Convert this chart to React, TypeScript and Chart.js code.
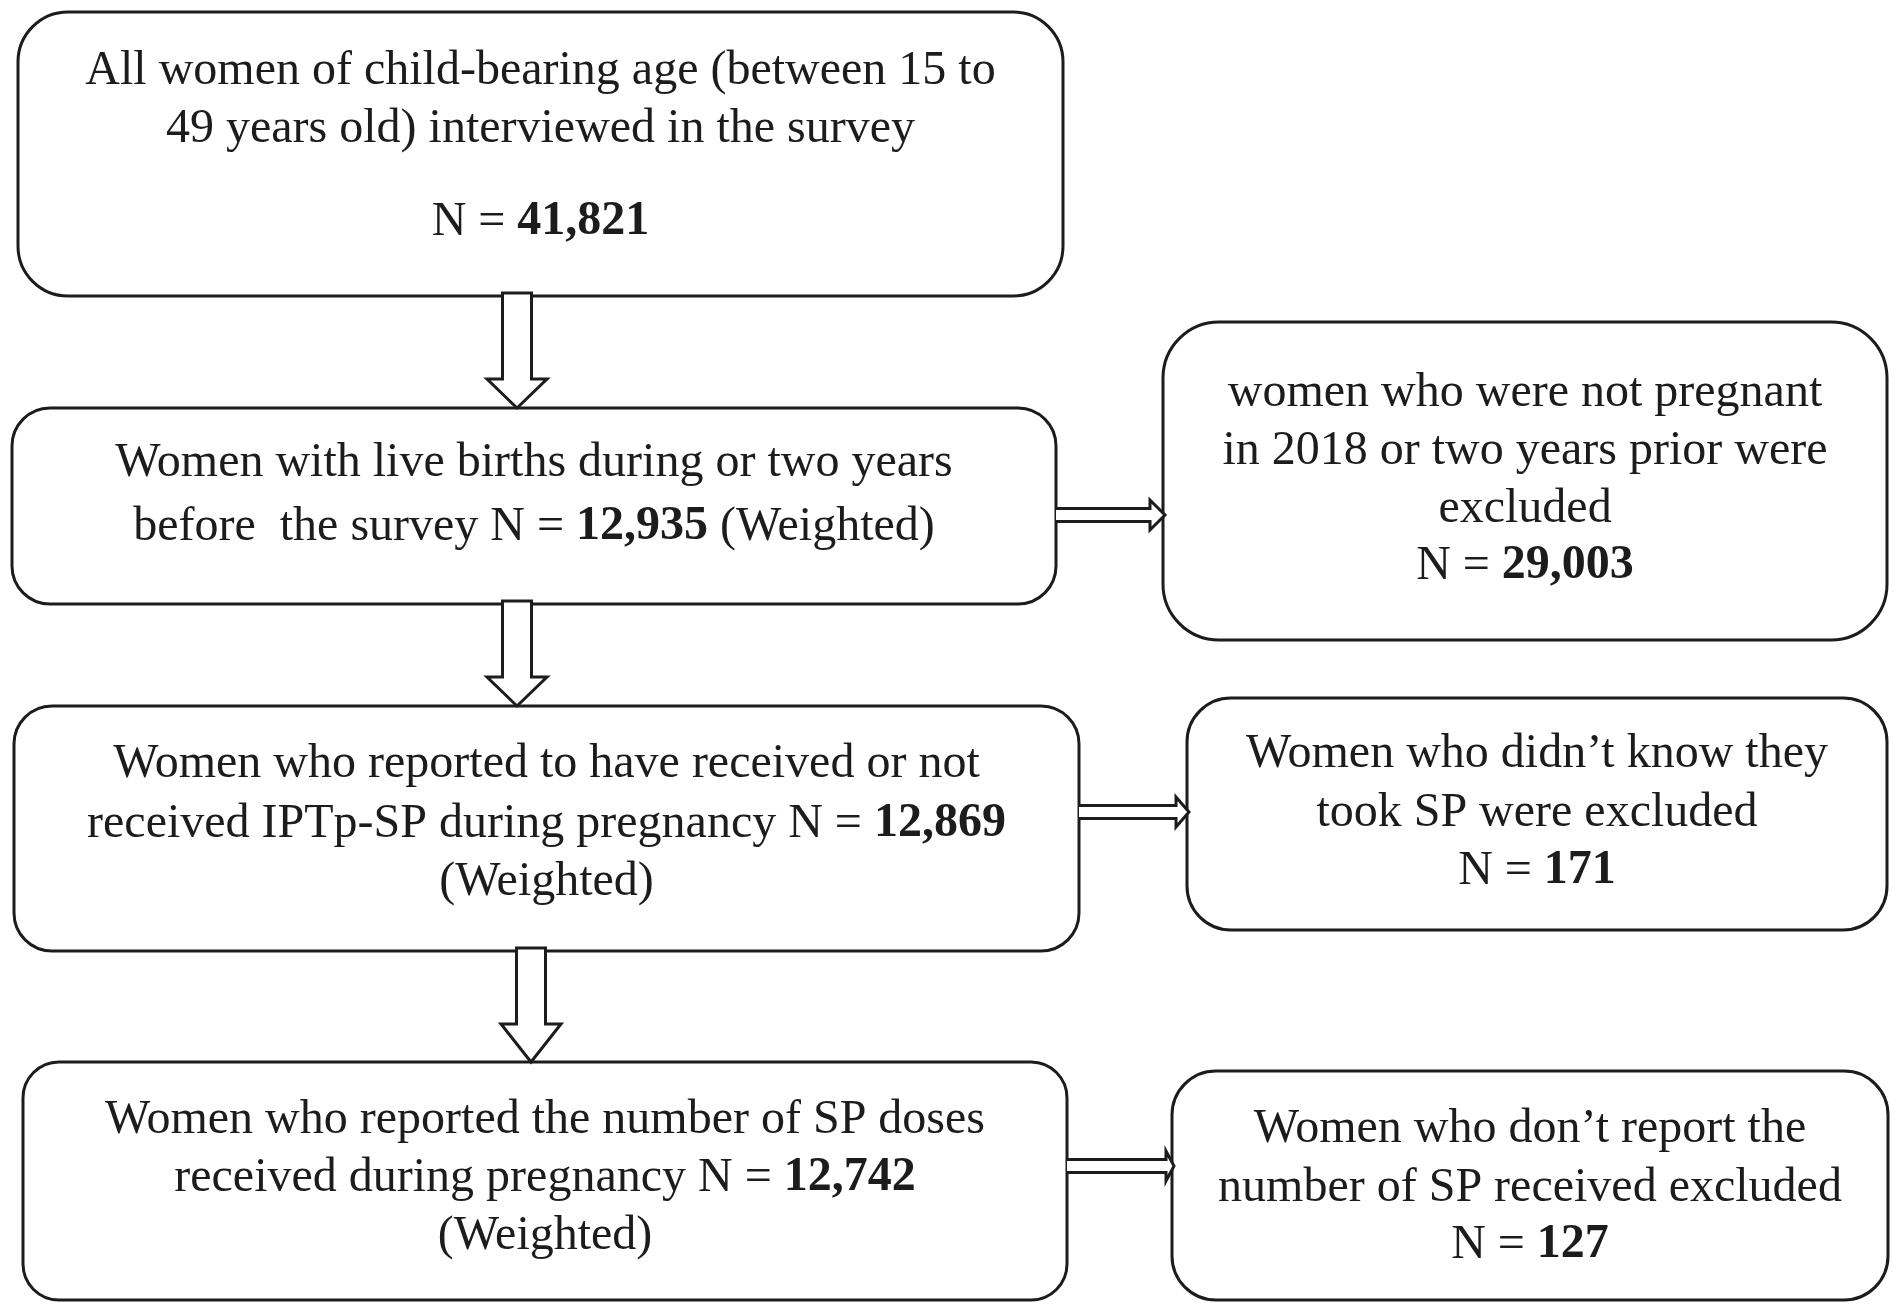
import React, { useEffect, useRef } from "react";
import { Chart, registerables } from "chart.js";

Chart.register(...registerables);

// ---------- content ----------
const nValues = ["41,821", "12,935", "29,003", "12,869", "171", "12,742", "127"];

const boxLines: string[][] = [
  ["All women of child-bearing age (between 15 to", "49 years old) interviewed in the survey", "N = **{N}**"],
  ["Women with live births during or two years", "before  the survey N = **{N}** (Weighted)"],
  ["women who were not pregnant", "in 2018 or two years prior were", "excluded", "N = **{N}**"],
  ["Women who reported to have received or not", "received IPTp-SP during pregnancy N = **{N}**", "(Weighted)"],
  ["Women who didn\u2019t know they", "took SP were excluded", "N = **{N}**"],
  ["Women who reported the number of SP doses", "received during pregnancy N = **{N}**", "(Weighted)"],
  ["Women who don\u2019t report the", "number of SP received excluded", "N = **{N}**"],
];

// flow links: [from box, to box]
const downLinks = [[0, 1], [1, 3], [3, 5]];
const sideLinks = [[1, 2], [3, 4], [5, 6]];

// ---------- layout (in frame units) ----------
const frameW = 1893;
const frameH = 1304;
const boxLeft = [18, 12, 1163, 14, 1187, 23, 1172];
const boxRight = [1063, 1056, 1887, 1079, 1887, 1067, 1888];
const boxTop = [12, 408, 322, 706, 698, 1062, 1071];
const boxBottom = [296, 604, 640, 951, 930, 1300, 1300];
const boxRadius = [50, 38, 56, 38, 44, 36, 44];
const lineY = [
  [71, 129, 222],
  [463, 527],
  [393, 451, 509, 566],
  [764, 824, 882],
  [754, 813, 871],
  [1120, 1178, 1236],
  [1129, 1188, 1245],
];
const downX = [517, 517, 531];
const downHeadY = [379, 677, 1024];
const sideY = [515, 812, 1166];
const sideHeadX = [1150, 1176, 1166];

const FONT = '"Liberation Serif", "Times New Roman", serif';
const INK = "#1c1c1c";

function parseLine(s: string, n: string) {
  const parts = s.replace("{N}", n).split("**");
  return parts.map((t, i) => ({ t, b: i % 2 === 1 })).filter((p) => p.t.length > 0);
}

const flowPlugin = {
  id: "flow",
  afterDraw(chart: any) {
    const ctx: CanvasRenderingContext2D = chart.ctx;
    const xs = chart.scales.x;
    const ys = chart.scales.y;
    const X = (v: number) => xs.getPixelForValue(v);
    const Y = (v: number) => ys.getPixelForValue(v);
    ctx.save();
    ctx.fillStyle = "#ffffff";
    ctx.fillRect(0, 0, chart.width, chart.height);

    // boxes
    ctx.lineWidth = 3;
    ctx.strokeStyle = INK;
    for (let i = 0; i < boxLines.length; i++) {
      const l = X(boxLeft[i]), r = X(boxRight[i]), t = Y(boxTop[i]), b = Y(boxBottom[i]);
      ctx.beginPath();
      (ctx as any).roundRect(l, t, r - l, b - t, boxRadius[i]);
      ctx.fillStyle = "#ffffff";
      ctx.fill();
      ctx.stroke();
    }

    // down arrows (hollow block arrows)
    downLinks.forEach(([from, to], k) => {
      const cx = X(downX[k]);
      const top = Y(boxBottom[from]) - 3;
      const hy = Y(downHeadY[k]);
      const tip = Y(boxTop[to]);
      const sw = 14.5, hw = 30;
      ctx.beginPath();
      ctx.moveTo(cx - sw, top);
      ctx.lineTo(cx + sw, top);
      ctx.lineTo(cx + sw, hy);
      ctx.lineTo(cx + hw, hy);
      ctx.lineTo(cx, tip);
      ctx.lineTo(cx - hw, hy);
      ctx.lineTo(cx - sw, hy);
      ctx.closePath();
      ctx.fillStyle = "#ffffff";
      ctx.fill();
      ctx.lineWidth = 3;
      ctx.stroke();
    });

    // side arrows (thin hollow arrows)
    sideLinks.forEach(([from, to], k) => {
      const cy = Y(sideY[k]);
      const x0 = X(boxRight[from]);
      const hx = X(sideHeadX[k]);
      const tip = X(boxLeft[to]) + 2;
      const sh = 6.5, hh = 15;
      ctx.beginPath();
      ctx.moveTo(x0, cy - sh);
      ctx.lineTo(hx, cy - sh);
      ctx.lineTo(hx, cy - hh);
      ctx.lineTo(tip, cy);
      ctx.lineTo(hx, cy + hh);
      ctx.lineTo(hx, cy + sh);
      ctx.lineTo(x0, cy + sh);
      ctx.fillStyle = "#ffffff";
      ctx.fill();
      ctx.lineWidth = 3;
      ctx.stroke();
    });

    // texts
    ctx.fillStyle = INK;
    ctx.textBaseline = "middle";
    ctx.textAlign = "left";
    const size = 48;
    for (let i = 0; i < boxLines.length; i++) {
      const cx = (X(boxLeft[i]) + X(boxRight[i])) / 2;
      boxLines[i].forEach((line, j) => {
        const segs = parseLine(line, nValues[i]);
        let total = 0;
        const widths = segs.map((s) => {
          ctx.font = `${s.b ? "bold " : ""}${size}px ${FONT}`;
          const w = ctx.measureText(s.t).width;
          total += w;
          return w;
        });
        let x = cx - total / 2;
        const y = Y(lineY[i][j]);
        segs.forEach((s, m) => {
          ctx.font = `${s.b ? "bold " : ""}${size}px ${FONT}`;
          ctx.fillText(s.t, x, y);
          x += widths[m];
        });
      });
    }
    ctx.restore();
  },
};

export default function App() {
  const ref = useRef<HTMLCanvasElement | null>(null);
  useEffect(() => {
    document.body.style.margin = "0";
    const canvas = ref.current;
    if (!canvas) return;
    const chart = new Chart(canvas, {
      type: "scatter",
      data: { datasets: [{ data: [], pointRadius: 0 }] },
      options: {
        animation: false,
        responsive: false,
        maintainAspectRatio: false,
        layout: { padding: 0 },
        plugins: { legend: { display: false }, tooltip: { enabled: false } },
        scales: {
          x: { type: "linear", min: 0, max: frameW, display: false },
          y: { type: "linear", min: 0, max: frameH, reverse: true, display: false },
        },
      },
      plugins: [flowPlugin],
    });
    return () => chart.destroy();
  }, []);
  return (
    <div style={{ width: frameW, height: frameH, background: "#fff" }}>
      <canvas ref={ref} width={frameW} height={frameH} style={{ display: "block" }} />
    </div>
  );
}
